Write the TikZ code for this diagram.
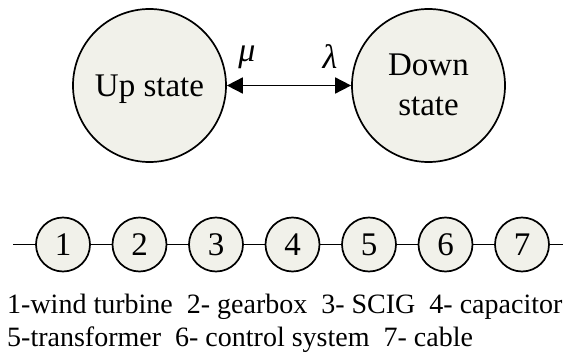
\documentclass[tikz,border=0pt]{standalone}
\usepackage{fontspec}
\setmainfont{Liberation Serif}
\usetikzlibrary{arrows.meta}
\definecolor{cfill}{RGB}{241,241,234}
\tikzset{
  statenode/.style={circle,draw=black,line width=1.7pt,fill=cfill,minimum size=153pt,inner sep=0pt},
  compnode/.style={circle,draw=black,line width=1.7pt,fill=cfill,minimum size=54pt,inner sep=0pt,
    font=\fontsize{33}{33}\selectfont},
  statelabel/.style={font=\fontsize{33}{40}\selectfont,inner sep=0pt},
  ratelabel/.style={font=\fontsize{34}{34}\selectfont,inner sep=0pt},
  wire/.style={line width=1.7pt},
  legend/.style={font=\fontsize{28}{33}\selectfont,inner sep=0pt,anchor=base west}
}
\begin{document}
\begin{tikzpicture}[x=1pt,y=-1pt]
\useasboundingbox (0,0) rectangle (563,356);
% state diagram
\node[statenode] (up) at (149.5,85.5) {};
\node[statenode] (down) at (428.5,85.5) {};
\node[statelabel,anchor=base] (uptxt) at (149.5,96.5) {Up state};
\node[statelabel,anchor=base] (downtxt1) at (428.5,75) {Down};
\node[statelabel,anchor=base] (downtxt2) at (428.5,115) {state};
\draw[line width=1.7pt,{Triangle[length=16pt,width=16pt]}-{Triangle[length=16pt,width=16pt]}] (up) -- (down);
\node[ratelabel] (mu) at (247,57) {\itshape μ};
\node[ratelabel] (lam) at (330,57) {\itshape λ};
% components chain
\coordinate (ls) at (13,244.5);
\coordinate (le) at (563,244.5);
\foreach \i in {1,...,7} {
  \node[compnode] (c\i) at ({63+76.5*(\i-1)},244.5) {\i};
}
\draw[wire] (ls) -- (c1) -- (c2) -- (c3) -- (c4) -- (c5) -- (c6) -- (c7) -- (le);
% legend
\node[legend] (l1) at (7,313) {1-wind turbine\hspace{0.5em}2- gearbox\hspace{0.5em}3- SCIG\hspace{0.5em}4- capacitor};
\node[legend] (l2) at (7,346) {5-transformer\hspace{0.5em}6- control system\hspace{0.5em}7- cable};
\end{tikzpicture}
\end{document}
